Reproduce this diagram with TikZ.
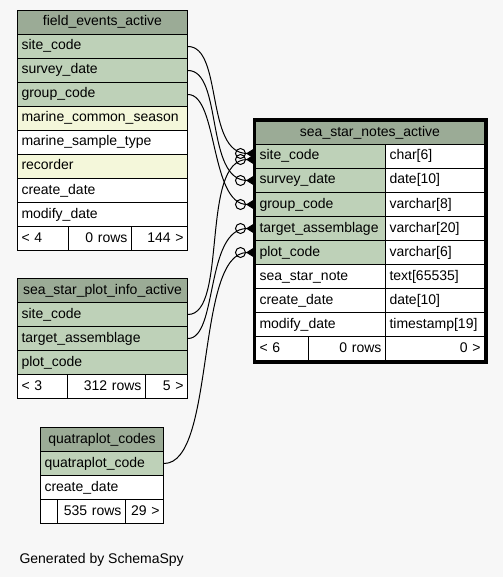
\documentclass[tikz,border=0pt]{standalone}
\usepackage{fontspec}
\setmainfont{Liberation Sans}
\usetikzlibrary{arrows.meta}
\definecolor{fond}{HTML}{F7F7F7}
\definecolor{entete}{HTML}{9BAB96}
\definecolor{clef}{HTML}{BED1B8}
\definecolor{index}{HTML}{F4F7DA}
\begin{document}
\begin{tikzpicture}[x=1pt,y=-1pt,font=\fontsize{14}{16}\selectfont]
  \tikzstyle{cell}=[draw,anchor=north west,inner xsep=4pt,inner ysep=0pt,minimum height=24pt,text height=10pt,text depth=3pt,line width=1pt,fill=white,align=left]
  \tikzstyle{titre}=[cell,fill=entete,align=center]
  \tikzstyle{cle}=[cell,fill=clef]
  \tikzstyle{idx}=[cell,fill=index]
  \tikzstyle{droite}=[cell,align=right]
  \tikzstyle{lien}=[line width=1pt,-{Circle[open,length=11pt,width=11pt]Triangle[reversed,length=9pt,width=11pt]}]
  \fill[fond] (0,0) rectangle (503,577);
  \useasboundingbox (0,0) rectangle (503,577);
  % field_events_active
  \node[titre,text width=162pt] (fea) at (17,10) {field\_events\_active};
  \node[cle,text width=162pt] (fea-site) at (17,34) {site\_code};
  \node[cle,text width=162pt] (fea-survey) at (17,58) {survey\_date};
  \node[cle,text width=162pt] (fea-group) at (17,82) {group\_code};
  \node[idx,text width=162pt] (fea-season) at (17,106) {marine\_common\_season};
  \node[cell,text width=162pt] (fea-type) at (17,130) {marine\_sample\_type};
  \node[idx,text width=162pt] (fea-rec) at (17,154) {recorder};
  \node[cell,text width=162pt] (fea-create) at (17,178) {create\_date};
  \node[cell,text width=162pt] (fea-modify) at (17,202) {modify\_date};
  \node[cell,text width=43pt] (fea-f1) at (17,226) {< 4};
  \node[droite,text width=55pt] (fea-f2) at (68,226) {0 rows};
  \node[droite,text width=48pt] (fea-f3) at (131,226) {144 >};
  % sea_star_plot_info_active
  \node[titre,text width=162pt] (spi) at (17,278) {sea\_star\_plot\_info\_active};
  \node[cle,text width=162pt] (spi-site) at (17,302) {site\_code};
  \node[cle,text width=162pt] (spi-target) at (17,326) {target\_assemblage};
  \node[cle,text width=162pt] (spi-plot) at (17,350) {plot\_code};
  \node[cell,text width=42pt] (spi-f1) at (17,374) {< 3};
  \node[droite,text width=70pt] (spi-f2) at (67,374) {312 rows};
  \node[droite,text width=34pt] (spi-f3) at (145,374) {5 >};
  % quatraplot_codes
  \node[titre,text width=115pt] (qpc) at (40,427) {quatraplot\_codes};
  \node[cle,text width=115pt] (qpc-code) at (40,451) {quatraplot\_code};
  \node[cell,text width=115pt] (qpc-create) at (40,475) {create\_date};
  \node[cell,text width=9pt] (qpc-f1) at (40,499) {};
  \node[droite,text width=60pt] (qpc-f2) at (57,499) {535 rows};
  \node[droite,text width=30pt] (qpc-f3) at (125,499) {29 >};
  % sea_star_notes_active
  \node[titre,text width=221pt,minimum height=23pt] (nsa) at (255,121) {sea\_star\_notes\_active};
  \node[cle,text width=122pt] (nsa-site) at (255,144) {site\_code};
  \node[cell,text width=91pt] (nsa-site-t) at (385,144) {char[6]};
  \node[cle,text width=122pt] (nsa-survey) at (255,168) {survey\_date};
  \node[cell,text width=91pt] (nsa-survey-t) at (385,168) {date[10]};
  \node[cle,text width=122pt] (nsa-group) at (255,192) {group\_code};
  \node[cell,text width=91pt] (nsa-group-t) at (385,192) {varchar[8]};
  \node[cle,text width=122pt] (nsa-target) at (255,216) {target\_assemblage};
  \node[cell,text width=91pt] (nsa-target-t) at (385,216) {varchar[20]};
  \node[cle,text width=122pt] (nsa-plot) at (255,240) {plot\_code};
  \node[cell,text width=91pt] (nsa-plot-t) at (385,240) {varchar[6]};
  \node[cell,text width=122pt] (nsa-note) at (255,264) {sea\_star\_note};
  \node[cell,text width=91pt] (nsa-note-t) at (385,264) {text[65535]};
  \node[cell,text width=122pt] (nsa-create) at (255,288) {create\_date};
  \node[cell,text width=91pt] (nsa-create-t) at (385,288) {date[10]};
  \node[cell,text width=122pt] (nsa-modify) at (255,312) {modify\_date};
  \node[cell,text width=91pt] (nsa-modify-t) at (385,312) {timestamp[19]};
  \node[cell,text width=45pt] (nsa-f1) at (255,336) {< 6};
  \node[droite,text width=69pt] (nsa-f2) at (308,336) {0 rows};
  \node[droite,text width=91pt] (nsa-f3) at (385,336) {0 >};
  \draw[line width=3pt] ([xshift=-1pt,yshift=1pt]nsa.north west) rectangle ([xshift=1pt,yshift=-1pt]nsa-f3.south east);
  % liens
  \draw[lien] (fea-site.east) .. controls +(35,0) and +(-50,0) .. ([yshift=3pt]nsa-site.west);
  \draw[lien] (fea-survey.east) .. controls +(35,0) and +(-50,0) .. (nsa-survey.west);
  \draw[lien] (fea-group.east) .. controls +(30,0) and +(-45,0) .. (nsa-group.west);
  \draw[lien] (spi-site.east) .. controls +(40,0) and +(-55,0) .. ([yshift=-3pt]nsa-site.west);
  \draw[lien] (spi-target.east) .. controls +(30,0) and +(-50,0) .. (nsa-target.west);
  \draw[lien] (qpc-code.east) .. controls +(52,0) and +(-60,0) .. (nsa-plot.west);
  \node[anchor=base west] (gen) at (16,563) {Generated by SchemaSpy};
\end{tikzpicture}
\end{document}
